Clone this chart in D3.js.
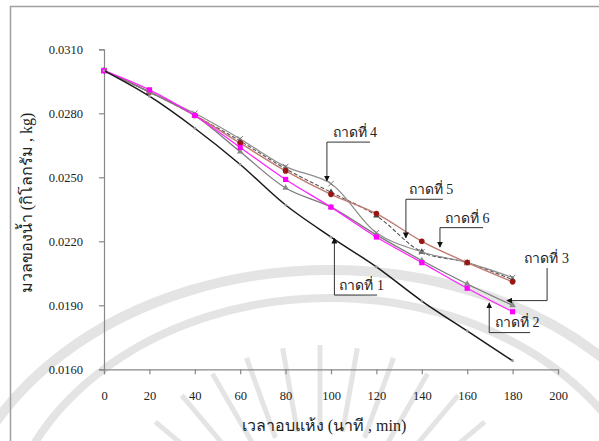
<!DOCTYPE html>
<html><head><meta charset="utf-8">
<script src="https://cdn.jsdelivr.net/npm/d3@7"></script>
<style>
html,body{margin:0;padding:0;background:#fff;}
svg{display:block;}
text{font-family:"Liberation Serif","Times New Roman",serif;}
</style></head>
<body>
<script>
const times = [0,20,40,60,80,100,120,140,160,180];
const tray1 = [0.0300,0.0288,0.0273,0.0256,0.0237,0.0222,0.0208,0.0192,0.0178,0.0164];
const tray2 = [0.0300,0.0291,0.0279,0.0264,0.0249,0.0236,0.0222,0.0210,0.0198,0.0187];
const tray3 = [0.0300,0.0290,0.0279,0.0262,0.0245,0.0236,0.0223,0.0211,0.0200,0.0190];
const tray4 = [0.0300,0.0290,0.0280,0.0268,0.0255,0.0247,0.0224,0.0215,0.0210,0.0203];
const tray5 = [0.0300,0.0290,0.0279,0.0267,0.0254,0.0243,0.0232,0.0215,0.0210,0.0202];
const tray6 = [0.0300,0.0290,0.0279,0.0266,0.0253,0.0242,0.0233,0.0220,0.0210,0.0201];
const xTicks = [0,20,40,60,80,100,120,140,160,180,200];
const yTicks = [0.0160,0.0190,0.0220,0.0250,0.0280,0.0310];
const xTitle = "เวลาอบแห้ง (นาที , min)";
const yTitle = "มวลของน้ำ (กิโลกรัม , kg)";
const labels = ["ถาดที่ 1","ถาดที่ 2","ถาดที่ 3","ถาดที่ 4","ถาดที่ 5","ถาดที่ 6"];
// callouts in data units: tip, corner, end
const callouts = [
  {label:labels[3], pts:[[98.2,0.02483],[98.2,0.02665],[117.2,0.02665]], text:[110.5,0.02690]},
  {label:labels[4], pts:[[133.0,0.02216],[133.0,0.02397],[149.3,0.02397]], text:[144.0,0.02420]},
  {label:labels[5], pts:[[148.0,0.02173],[148.0,0.02264],[167.0,0.02264]], text:[160.0,0.02287]},
  {label:labels[2], pts:[[177.5,0.01922],[195.2,0.01922],[195.2,0.02075]], text:[195.0,0.02098]},
  {label:labels[1], pts:[[169.7,0.01911],[169.7,0.01772],[187.7,0.01772]], text:[182.0,0.01800]},
  {label:labels[0], pts:[[101.5,0.02215],[101.5,0.01948],[120.3,0.01948]], text:[113.5,0.01972]}
];

const W=599,H=441;
const svg=d3.select("body").append("svg").attr("width",W).attr("height",H);
svg.append("rect").attr("width",W).attr("height",H).attr("fill","#fff");

// watermark
const wm=svg.append("g").attr("fill","none").attr("stroke","#e4e4e4");
wm.append("ellipse").attr("cx",330).attr("cy",560).attr("rx",380).attr("ry",290).attr("stroke-width",10);
wm.append("ellipse").attr("cx",330).attr("cy",560).attr("rx",330).attr("ry",262).attr("stroke-width",8);
d3.range(-70,71,10).forEach(a=>{
  const r=Math.PI/180*a;
  const cx=320, cy=560;
  wm.append("line").attr("x1",cx+Math.sin(r)*130).attr("y1",cy-Math.cos(r)*130)
    .attr("x2",cx+Math.sin(r)*215).attr("y2",cy-Math.cos(r)*215).attr("stroke-width",5);
});

// frame
svg.append("path").attr("d","M10.5,441 V6.5 H599").attr("fill","none").attr("stroke","#a0a0a0").attr("stroke-width",1.5);

const x=d3.scaleLinear().domain([0,200]).range([104,558]);
const y=d3.scaleLinear().domain([0.016,0.031]).range([369.3,49.3]);

const axisColor="#888";
const gx=svg.append("g").attr("transform","translate(0,369.3)")
  .call(d3.axisBottom(x).tickValues(xTicks).tickSize(5).tickPadding(17).tickFormat(d3.format("d")));
const gy=svg.append("g").attr("transform","translate(104,0)")
  .call(d3.axisLeft(y).tickValues(yTicks).tickSize(5).tickPadding(16).tickFormat(d3.format(".4f")));
[gx,gy].forEach(g=>{
  g.select(".domain").attr("stroke",axisColor).attr("stroke-width",1.2);
  g.selectAll(".tick line").attr("stroke",axisColor).attr("stroke-width",1.2);
  g.selectAll(".tick text").attr("fill","#222").style("font-family","'Liberation Serif',serif").style("font-size","12.5px");
});

svg.append("text").attr("x",324).attr("y",431).attr("text-anchor","middle")
  .attr("font-size",16).attr("fill","#222").text(xTitle);
svg.append("text").attr("transform","translate(32,203) rotate(-90)").attr("text-anchor","middle")
  .attr("font-size",16).attr("fill","#222").text(yTitle);

const line=d3.line().x((d,i)=>x(times[i])).y(d=>y(d)).curve(d3.curveCatmullRom.alpha(0.5));

const series=[
  {v:tray5, color:"#555", width:1.1, dash:"4,2", marker:"tri", mcolor:"#444"},
  {v:tray4, color:"#8c8c8c", width:1.2, dash:null, marker:"x", mcolor:"#777"},
  {v:tray6, color:"#c07a70", width:1.4, dash:null, marker:"circle", mcolor:"#9b1515"},
  {v:tray3, color:"#7a7a7a", width:1.3, dash:null, marker:"tri", mcolor:"#888"},
  {v:tray2, color:"#ff22ff", width:1.3, dash:null, marker:"square", mcolor:"#ff00ff"},
  {v:tray1, color:"#1a1a1a", width:1.5, dash:null, marker:"dot", mcolor:"#999"}
];
series.forEach(s=>{
  svg.append("path").datum(s.v).attr("d",line).attr("fill","none")
    .attr("stroke",s.color).attr("stroke-width",s.width).attr("stroke-dasharray",s.dash);
  const g=svg.append("g");
  s.v.forEach((v,i)=>{
    const px=x(times[i]), py=y(v);
    if(s.marker==="circle") g.append("circle").attr("cx",px).attr("cy",py).attr("r",2.8).attr("fill",s.mcolor);
    else if(s.marker==="square") g.append("rect").attr("x",px-2.6).attr("y",py-2.6).attr("width",5.2).attr("height",5.2).attr("fill",s.mcolor);
    else if(s.marker==="dot") g.append("circle").attr("cx",px).attr("cy",py).attr("r",1.4).attr("fill",s.mcolor);
    else if(s.marker==="tri") g.append("path").attr("d",d3.symbol(d3.symbolTriangle,18)()).attr("transform",`translate(${px},${py})`).attr("fill",s.mcolor);
    else if(s.marker==="x") g.append("path").attr("d",d3.symbol(d3.symbolX,22)()).attr("transform",`translate(${px},${py})`).attr("fill","none").attr("stroke",s.mcolor).attr("stroke-width",1);
  });
});

// callouts
const defs=svg.append("defs");
defs.append("marker").attr("id","arr").attr("viewBox","0 0 10 10").attr("refX",9).attr("refY",5)
  .attr("markerWidth",6).attr("markerHeight",6).attr("orient","auto-start-reverse")
  .append("path").attr("d","M0,0 L10,5 L0,10 z").attr("fill","#111");
callouts.forEach(c=>{
  const pts=c.pts.map(p=>[x(p[0]),y(p[1])]);
  svg.append("path").attr("d",d3.line()(pts)).attr("fill","none").attr("stroke","#333").attr("stroke-width",1)
    .attr("marker-start","url(#arr)");
  svg.append("text").attr("x",x(c.text[0])).attr("y",y(c.text[1])).attr("text-anchor","middle")
    .attr("font-size",14).attr("fill","#222").text(c.label);
});
</script>
</body></html>
